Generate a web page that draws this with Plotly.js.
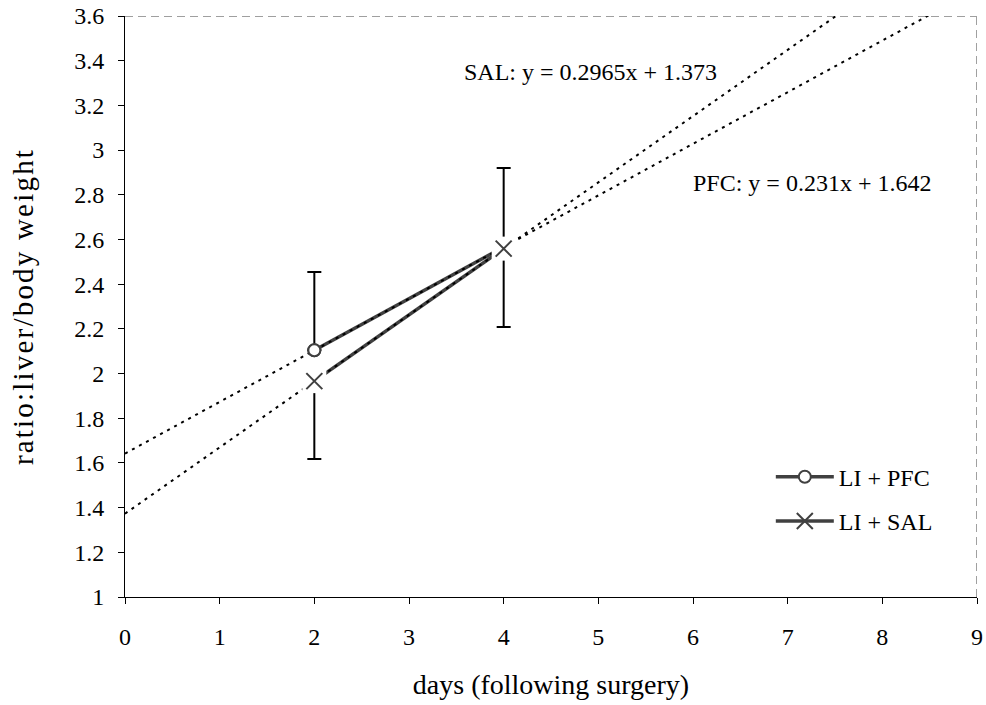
<!DOCTYPE html>
<html>
<head>
<meta charset="utf-8">
<script src="https://cdn.plot.ly/plotly-3.0.1.min.js"></script>
<style>
  html, body { margin: 0; padding: 0; background: #fff; }
  #chart { width: 986px; height: 705px; }
  .ytitle { letter-spacing: 2.2px; }
</style>
</head>
<body>
<div id="chart"></div>
<script>
// ---- data ----
const days = [2, 4];
const pfcValues = [2.104, 2.566];      // LI + PFC
const salValues = [1.966, 2.559];      // LI + SAL
const pfcErrPlus = [0.35, 0.354];      // PFC: upper error bars only
const salErrMinus = [0.349, 0.351];    // SAL: lower error bars only
const trendX = [0, 9];                 // trendlines span the whole x axis
const seriesNames = ['LI + PFC', 'LI + SAL'];
const eqLabels = ['PFC: y = 0.231x + 1.642', 'SAL: y = 0.2965x + 1.373'];
const xTickVals = [0, 1, 2, 3, 4, 5, 6, 7, 8, 9];
const xTickText = ['0', '1', '2', '3', '4', '5', '6', '7', '8', '9'];
const yTickVals = [1, 1.2, 1.4, 1.6, 1.8, 2, 2.2, 2.4, 2.6, 2.8, 3, 3.2, 3.4, 3.6];
const yTickText = ['1', '1.2', '1.4', '1.6', '1.8', '2', '2.2', '2.4', '2.6', '2.8', '3', '3.2', '3.4', '3.6'];

// least-squares linear trendline, as the spreadsheet computes it
function linFit(xs, ys) {
  const n = xs.length;
  const mx = xs.reduce((a, b) => a + b, 0) / n;
  const my = ys.reduce((a, b) => a + b, 0) / n;
  let sxy = 0, sxx = 0;
  for (let i = 0; i < n; i++) { sxy += (xs[i] - mx) * (ys[i] - my); sxx += (xs[i] - mx) ** 2; }
  const m = sxy / sxx;
  return { m: m, b: my - m * mx };
}
const pfcFit = linFit(days, pfcValues);
const salFit = linFit(days, salValues);

const FONT = 'Liberation Serif, Times New Roman, serif';
const DARK = '#404040';
const zeros = days.map(() => 0);

const traces = [
  // error bars
  { x: days, y: pfcValues, type: 'scatter', mode: 'markers', marker: { size: 1, opacity: 0 },
    error_y: { type: 'data', symmetric: false, array: pfcErrPlus, arrayminus: zeros, color: '#000', thickness: 2, width: 7 },
    showlegend: false, hoverinfo: 'skip', legendgroup: 'pfc' },
  { x: days, y: salValues, type: 'scatter', mode: 'markers', marker: { size: 1, opacity: 0 },
    error_y: { type: 'data', symmetric: false, array: zeros, arrayminus: salErrMinus, color: '#000', thickness: 2, width: 7 },
    showlegend: false, hoverinfo: 'skip', legendgroup: 'sal' },
  // series lines (legend entries)
  { x: days, y: pfcValues, type: 'scatter', mode: 'lines+markers', name: seriesNames[0], legendgroup: 'pfc',
    line: { color: DARK, width: 3.5 },
    marker: { symbol: 'circle', size: 12, color: '#fff', line: { color: DARK, width: 2 } } },
  { x: days, y: salValues, type: 'scatter', mode: 'lines+markers', name: seriesNames[1], legendgroup: 'sal',
    line: { color: DARK, width: 3.5 },
    marker: { symbol: 'x-thin', size: 16, color: DARK, line: { color: DARK, width: 2 } } },
  // trendlines
  { x: trendX, y: trendX.map(v => pfcFit.m * v + pfcFit.b), type: 'scatter', mode: 'lines',
    line: { color: '#000', width: 2, dash: '3px,5px' }, showlegend: false, hoverinfo: 'skip', legendgroup: 'pfc' },
  { x: trendX, y: trendX.map(v => salFit.m * v + salFit.b), type: 'scatter', mode: 'lines',
    line: { color: '#000', width: 2, dash: '3px,5px' }, showlegend: false, hoverinfo: 'skip', legendgroup: 'sal' },
  // PFC markers on top of lines
  { x: days, y: pfcValues, type: 'scatter', mode: 'markers', legendgroup: 'pfc', showlegend: false,
    marker: { symbol: 'circle', size: 12, color: '#fff', line: { color: DARK, width: 2 } } },
  // white background behind the X markers (SAL drawn last, covers PFC at day 4)
  { x: days, y: salValues, type: 'scatter', mode: 'markers',
    marker: { symbol: 'square', size: 24, color: '#fff', line: { width: 0 } },
    showlegend: false, hoverinfo: 'skip', legendgroup: 'sal' },
  { x: days, y: salValues, type: 'scatter', mode: 'markers', legendgroup: 'sal', showlegend: false,
    marker: { symbol: 'x-thin', size: 16, color: DARK, line: { color: DARK, width: 2 } } }
];

const layout = {
  width: 986, height: 705,
  margin: { l: 125, r: 9, t: 16, b: 108 },
  paper_bgcolor: '#fff', plot_bgcolor: '#fff',
  font: { family: FONT, size: 24, color: '#000' },
  showlegend: true,
  legend: {
    x: 0.758, y: 0.245, xanchor: 'left', yanchor: 'top',
    bgcolor: 'rgba(0,0,0,0)', borderwidth: 0,
    font: { family: FONT, size: 24, color: '#000' },
    traceorder: 'grouped', tracegroupgap: 10, itemwidth: 58
  },
  xaxis: {
    range: [0, 9], tickvals: xTickVals, ticktext: xTickText,
    showline: true, linecolor: '#000', linewidth: 1,
    ticks: 'outside', ticklen: 6, tickcolor: '#000', tickwidth: 1,
    ticklabelstandoff: 12,
    showgrid: false, zeroline: false, fixedrange: true,
    tickfont: { family: FONT, size: 24, color: '#000' },
    title: { text: 'days (following surgery)', font: { family: FONT, size: 28, color: '#000' }, standoff: 25 }
  },
  yaxis: {
    range: [1, 3.6], tickvals: yTickVals, ticktext: yTickText,
    showline: true, linecolor: '#000', linewidth: 1,
    ticks: 'outside', ticklen: 6, tickcolor: '#000', tickwidth: 1,
    ticklabelstandoff: 9,
    showgrid: false, zeroline: false, fixedrange: true,
    tickfont: { family: FONT, size: 24, color: '#000' },
    title: { text: 'ratio:liver/body weight', font: { family: FONT, size: 29, color: '#000' }, standoff: 32 }
  },
  shapes: [
    { type: 'line', xref: 'x', yref: 'y', x0: 0, x1: 9, y0: 3.6, y1: 3.6, layer: 'below',
      line: { color: '#404040', width: 1, dash: '8px,5px' } },
    { type: 'line', xref: 'x', yref: 'y', x0: 9, x1: 9, y0: 1, y1: 3.6, layer: 'below',
      line: { color: '#404040', width: 1, dash: '8px,5px' } }
  ],
  annotations: [
    { xref: 'x', yref: 'y', x: 4.92, y: 3.349, text: eqLabels[1], showarrow: false,
      font: { family: FONT, size: 24, color: '#000' } },
    { xref: 'x', yref: 'y', x: 7.26, y: 2.852, text: eqLabels[0], showarrow: false,
      font: { family: FONT, size: 24, color: '#000' } }
  ]
};

Plotly.newPlot('chart', traces, layout, { displayModeBar: false, staticPlot: true });
</script>
</body>
</html>
